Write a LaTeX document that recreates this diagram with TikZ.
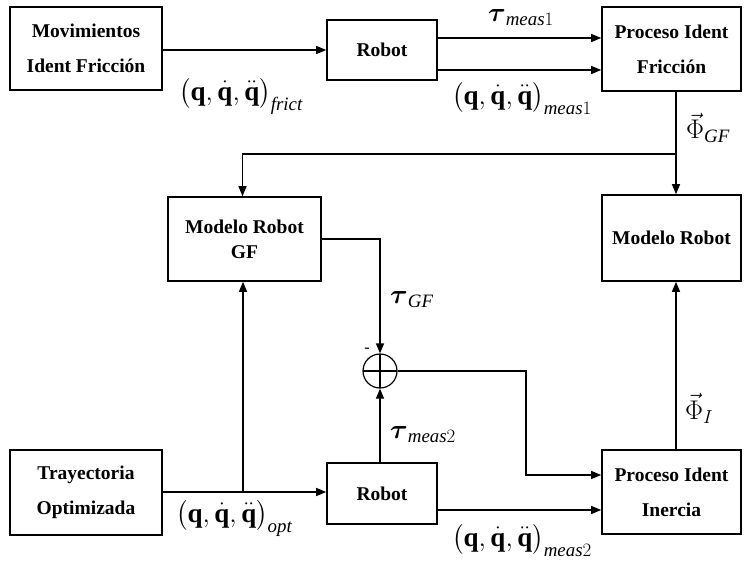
\documentclass[tikz,border=0pt]{standalone}
\usepackage{fix-cm}
\usepackage{amsmath}
\usepackage{fontspec}
\setmainfont{Liberation Serif}
\usetikzlibrary{arrows.meta,calc}
\tikzset{
  bloque/.style={draw,line width=1.6pt,align=center,inner sep=0pt,
    font=\fontsize{19.5}{35}\selectfont\bfseries},
  senal/.style={line width=1.2pt,-{Triangle[length=10pt,width=8pt]}},
  etiq/.style={inner sep=0pt,font=\fontsize{27}{30}\selectfont},
  sumador/.style={draw,circle,line width=1.2pt,minimum size=34pt,inner sep=0pt,
    path picture={\draw[line width=1.2pt] (path picture bounding box.north) -- (path picture bounding box.south)
      (path picture bounding box.west) -- (path picture bounding box.east);}}
}
\newcommand{\qvec}{\bigl(\mathbf{q},\dot{\mathbf{q}},\ddot{\mathbf{q}}\bigr)}
\begin{document}
\begin{tikzpicture}[x=1pt,y=-1pt]
				\useasboundingbox (0,0) rectangle (747,562);
				%Bloques del diagrama
				\node[bloque,minimum width=152pt,minimum height=83pt] (M) at (86,48.5) {Movimientos\\Ident Fricción};
				\node[bloque,minimum width=110pt,minimum height=60pt] (R1) at (382,50) {Robot};
				\node[bloque,minimum width=139pt,minimum height=84pt] (PF) at (671.5,49) {Proceso Ident\\Fricción};
				\node[bloque,minimum width=153pt,minimum height=84pt,font=\fontsize{19.5}{25}\selectfont\bfseries] (MG) at (244.5,239) {Modelo Robot\\GF};
				\node[bloque,minimum width=139pt,minimum height=86pt] (MR) at (671.5,238) {Modelo Robot};
				\node[bloque,minimum width=152pt,minimum height=85pt] (T) at (86,492.5) {Trayectoria\\Optimizada};
				\node[bloque,minimum width=110pt,minimum height=61pt] (R2) at (382,493.5) {Robot};
				\node[bloque,minimum width=139pt,minimum height=84pt] (PI) at (671.5,492) {Proceso Ident\\Inercia};
				\node[sumador] (S) at (380,371) {};
				\node[inner sep=0pt,font=\fontsize{16}{16}\selectfont] (Smenos) at (367,350) {-};
				%Puntos auxiliares
				\coordinate (B) at (676,154);
				\coordinate (J) at (243,492);
				\coordinate (C) at (526,371);
				%Conexiones
				\draw[senal] (M.east |- R1.west) -- (R1.west);
				\draw[senal] ([yshift=12pt]R1.east) -- ([yshift=12pt]R1.east -| PF.west);
				\draw[senal] ([yshift=-20pt]R1.east) -- ([yshift=-20pt]R1.east -| PF.west);
				\draw[senal] (PF.south -| B) -- (MR.north -| B);
				\draw[senal] (B) -| ([xshift=-2pt]MG.north);
				\draw[senal] (MG.east) -| (S.north);
				\draw[senal] (T.east |- J) -- (J -| R2.west);
				\draw[senal] (J) -- (J |- MG.south);
				\draw[senal] (R2.north -| S) -- (S.south);
				\draw[senal] (S.east) -- (C) |- ([yshift=17pt]PI.west);
				\draw[senal] ([yshift=-16.5pt]R2.east) -- ([yshift=-16.5pt]R2.east -| PI.west);
				\draw[senal] (PI.north -| B) -- (MR.south -| B);
				%Etiquetas de las señales
				\node[etiq] (Ltm1) at (521,18) {$\boldsymbol{\tau}_{\mathit{meas}1}$};
				\node[etiq] (Lqm1) at (522,98) {$\qvec_{\mathit{meas}1}$};
				\node[etiq] (Lqf) at (241,96) {$\qvec_{\mathit{frict}}$};
				\node[etiq,anchor=west] (Lpgf) at (686,128) {$\vec{\Phi}_{\mathit{GF}}$};
				\node[etiq,anchor=west] (Ltgf) at (390,300) {$\boldsymbol{\tau}_{\mathit{GF}}$};
				\node[etiq,anchor=west] (Ltm2) at (390,435) {$\boldsymbol{\tau}_{\mathit{meas}2}$};
				\node[etiq,anchor=west] (Lpi) at (685,408) {$\vec{\Phi}_{I}$};
				\node[etiq,anchor=west] (Lqo) at (176,518) {$\qvec_{\mathit{opt}}$};
				\node[etiq] (Lqm2) at (522,540) {$\qvec_{\mathit{meas}2}$};
\end{tikzpicture}
\end{document}
